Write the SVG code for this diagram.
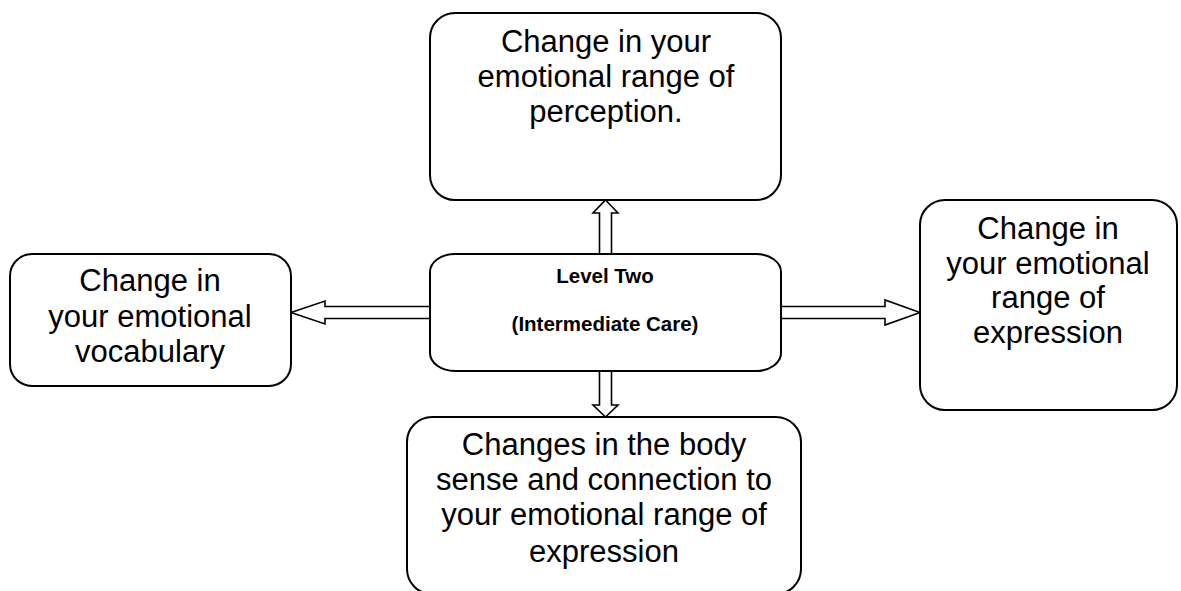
<svg xmlns="http://www.w3.org/2000/svg" width="1181" height="591" viewBox="0 0 1181 591">
<style>
.box{fill:#fff;stroke:#000;stroke-width:2}
.arr{fill:#fff;stroke:#000;stroke-width:1.6;stroke-linejoin:miter}
.t{font-family:"Liberation Sans",Arial,sans-serif;font-size:31px;fill:#000;text-anchor:middle}
.b{font-family:"Liberation Sans",Arial,sans-serif;font-size:20.5px;font-weight:bold;fill:#000;text-anchor:middle}
</style>
<rect width="1181" height="591" fill="#fff"/>
<g id="connectors">
<polygon class="arr" points="605.5,200 618,213 611.5,213 611.5,256 599.5,256 599.5,213 593,213"/>
<polygon class="arr" points="605.5,417 618,405 611.5,405 611.5,369 599.5,369 599.5,405 593,405"/>
<polygon class="arr" points="291,312.5 325,301 325,306.5 432,306.5 432,318.5 325,318.5 325,324"/>
<polygon class="arr" points="920,312.5 885,300 885,306.5 779,306.5 779,318.5 885,318.5 885,325"/>
</g>
<g id="top">
<rect class="box" x="430" y="13" width="351" height="187" rx="25" ry="25"/>
<text class="t" x="606" y="52">Change in your</text>
<text class="t" x="606" y="87">emotional range of</text>
<text class="t" x="606" y="122">perception.</text>
</g>
<g id="center">
<rect class="box" x="430" y="254" width="351" height="117" rx="25" ry="18"/>
<text class="b" x="605" y="283">Level Two</text>
<text class="b" x="605" y="331">(Intermediate Care)</text>
</g>
<g id="left">
<rect class="box" x="10" y="254" width="281" height="132" rx="22" ry="22"/>
<text class="t" x="150" y="291">Change in</text>
<text class="t" x="150" y="327">your emotional</text>
<text class="t" x="150" y="362">vocabulary</text>
</g>
<g id="right">
<rect class="box" x="920" y="200" width="257" height="210" rx="25" ry="25"/>
<text class="t" x="1048" y="239">Change in</text>
<text class="t" x="1048" y="274">your emotional</text>
<text class="t" x="1048" y="308">range of</text>
<text class="t" x="1048" y="343">expression</text>
</g>
<g id="bottom">
<rect class="box" x="407" y="417" width="394" height="177" rx="25" ry="25"/>
<text class="t" x="604" y="455">Changes in the body</text>
<text class="t" x="604" y="490">sense and connection to</text>
<text class="t" x="604" y="525">your emotional range of</text>
<text class="t" x="604" y="562">expression</text>
</g>
</svg>
